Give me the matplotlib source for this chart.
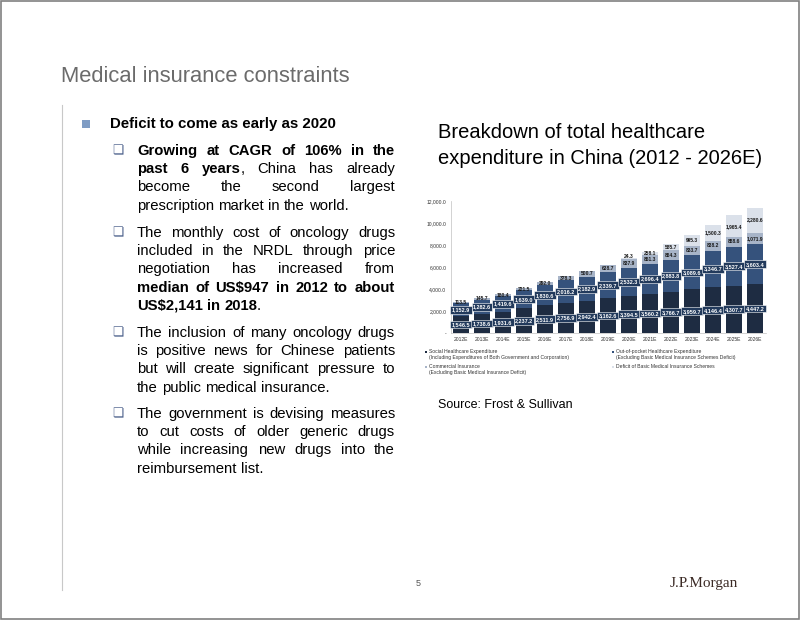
import matplotlib.pyplot as plt
from matplotlib.patches import Rectangle
from matplotlib.lines import Line2D

W, H = 802, 620

years = ['2012E', '2013E', '2014E', '2015E', '2016E', '2017E', '2018E', '2019E',
         '2020E', '2021E', '2022E', '2023E', '2024E', '2025E', '2026E']
social = [1546.5, 1738.6, 1931.6, 2237.2, 2511.9, 2756.9, 2942.4, 3162.6,
          3394.5, 3560.2, 3766.7, 3959.7, 4146.4, 4307.7, 4447.2]
out_of_pocket = [1152.9, 1282.6, 1419.6, 1639.0, 1830.6, 2016.2, 2182.9, 2339.7,
                 2532.3, 2696.4, 2883.8, 3089.6, 3346.7, 3527.4, 3603.4]
commercial = [113.5, 145.7, 180.4, 221.5, 292.0, 378.3, 500.7, 638.7,
              837.9, 861.3, 864.3, 833.7, 838.2, 888.6, 1071.9]
deficit = [0, 0, 0, 0, 0, 0, 0, 0,
           24.3, 258.1, 585.7, 995.3, 1500.3, 1965.4, 2280.6]
yticks = [0, 2000, 4000, 6000, 8000, 10000, 12000]

plt.rcParams['font.family'] = ['Liberation Sans', 'DejaVu Sans']

fig = plt.figure(figsize=(W / 100, H / 100), dpi=100)


def fx(x):
    return x / W


def fy(y):
    return 1 - y / H


# slide frame and left rule
fig.add_artist(Rectangle((fx(1), fy(619)), fx(799) - fx(1), fy(1) - fy(619),
                         transform=fig.transFigure, fill=False, ec='#808080', lw=1.2))
fig.add_artist(Line2D([fx(62), fx(62)], [fy(105), fy(590)], transform=fig.transFigure,
                      color='#c8c8c8', lw=0.8))

fig.text(fx(61), fy(77), 'Medical insurance constraints', fontsize=15.8, color='#6b6b6b',
         va='center', ha='left')

# main bullet
fig.add_artist(Rectangle((fx(82), fy(128)), 8 / W, 8 / H, transform=fig.transFigure,
                         fc='#7f9cc4', ec='none'))
fig.text(fx(110), fy(124), 'Deficit to come as early as 2020', fontsize=10.8,
         fontweight='bold', va='center', ha='left')

# sub bullets, justified text
paras = [
    [[('Growing at CAGR of 106% in the', True)],
     [('past 6 years', True), (', China has already', False)],
     [('become the second largest', False)],
     [('prescription market in the world.', False)]],
    [[('The monthly cost of oncology drugs', False)],
     [('included in the NRDL through price', False)],
     [('negotiation has increased from', False)],
     [('median of US$947 in 2012 to about', True)],
     [('US$2,141 in 2018', True), ('.', False)]],
    [[('The inclusion of many oncology drugs', False)],
     [('is positive news for Chinese patients', False)],
     [('but will create significant pressure to', False)],
     [('the public medical insurance.', False)]],
    [[('The government is devising measures', False)],
     [('to cut costs of older generic drugs', False)],
     [('while increasing new drugs into the', False)],
     [('reimbursement list.', False)]],
]
para_y = [151, 233, 333, 414]
line_h = 18.2
x_left, x_right = 137, 395
fs = 10.7

renderer = fig.canvas.get_renderer()


def width_of(s, bold):
    t = fig.text(0, 0, s, fontsize=fs, fontweight='bold' if bold else 'normal')
    w = t.get_window_extent(renderer).width
    t.remove()
    return w


space_w = width_of('a a', False) - width_of('aa', False)

for para, y0 in zip(paras, para_y):
    fig.text(fx(112), fy(y0), '\u274f', fontsize=9, color='#4a5f8a', va='center',
             ha='left', family=['DejaVu Sans'])
    for i, segs in enumerate(para):
        y = y0 + i * line_h
        # words; punctuation at the start of a segment sticks to the previous word
        tokens = []
        for k, (text, bold) in enumerate(segs):
            for j, p in enumerate(text.split(' ')):
                if p == '':
                    continue
                if k > 0 and j == 0 and p[0] in ',.' and tokens:
                    tokens[-1].append((p, bold))
                else:
                    tokens.append([(p, bold)])
        widths = [sum(width_of(p, b) for p, b in tok) for tok in tokens]
        last = i == len(para) - 1
        if last or len(tokens) == 1:
            gap = space_w
        else:
            gap = (x_right - x_left - sum(widths)) / (len(tokens) - 1)
        x = x_left
        for tok, w in zip(tokens, widths):
            xx = x
            for p, b in tok:
                fig.text(fx(xx), fy(y), p, fontsize=fs, fontweight='bold' if b else 'normal',
                         va='center', ha='left')
                xx += width_of(p, b)
            x += w + gap

# chart title
fig.text(fx(438), fy(132), 'Breakdown of total healthcare', fontsize=14.5,
         va='center', ha='left')
fig.text(fx(438), fy(158), 'expenditure in China (2012 - 2026E)', fontsize=14.5,
         va='center', ha='left')

# chart
ax = fig.add_axes([fx(450.5), fy(333), 315 / W, 132 / H])
xs = list(range(len(years)))
c_social = '#1e2c42'
c_oop = '#35527c'
c_comm = '#a7b4c8'
c_def = '#dbe1ea'
bw = 0.72
b1 = social
b2 = [a + b for a, b in zip(social, out_of_pocket)]
b3 = [a + b for a, b in zip(b2, commercial)]
ax.bar(xs, social, bw, color=c_social)
ax.bar(xs, out_of_pocket, bw, bottom=b1, color=c_oop)
ax.bar(xs, commercial, bw, bottom=b2, color=c_comm)
ax.bar(xs, deficit, bw, bottom=b3, color=c_def)

box = dict(boxstyle='square,pad=0.25', fc='#223a5c', ec='white', lw=0.4)
for i in xs:
    ax.text(i, social[i] / 2, f'{social[i]:,.1f}', fontsize=4, color='white',
            fontweight='bold', ha='center', va='center', bbox=box)
    ax.text(i, b1[i] + out_of_pocket[i] / 2, f'{out_of_pocket[i]:,.1f}', fontsize=4,
            color='white', fontweight='bold', ha='center', va='center', bbox=box)
    ax.text(i, b2[i] + commercial[i] / 2, f'{commercial[i]:,.1f}', fontsize=3.6,
            color='#1a1a1a', fontweight='bold', ha='center', va='center')
    if deficit[i] > 0:
        ax.text(i, b3[i] + max(deficit[i], 300) / 2, f'{deficit[i]:,.1f}', fontsize=3.6,
                color='#1a1a1a', fontweight='bold', ha='center', va='center')

ax.set_xlim(-0.5, len(years) - 0.5)
ax.set_ylim(0, 12000)
ax.set_yticks(yticks)
ax.set_yticklabels(['-'] + [f'{v:,.1f}' for v in yticks[1:]])
ax.set_xticks(xs)
ax.set_xticklabels(years)
ax.tick_params(labelsize=3.6, length=0, pad=3, colors='#333333')
for s in ['top', 'right']:
    ax.spines[s].set_visible(False)
ax.spines['left'].set_color('#c0c0c0')
ax.spines['bottom'].set_color('#c0c0c0')
ax.spines['left'].set_linewidth(0.5)
ax.spines['bottom'].set_linewidth(0.5)

# legend
leg = [
    (425, 352, c_social, 'Social Healthcare Expenditure',
     '(Including Expenditures of Both Government and Corporation)'),
    (612, 352, c_oop, 'Out-of-pocket Healthcare Expenditure',
     '(Excluding Basic Medical Insurance Schemes Deficit)'),
    (425, 367, c_comm, 'Commercial Insurance',
     '(Excluding Basic Medical Insurance Deficit)'),
    (612, 367, c_def, 'Deficit of Basic Medical Insurance Schemes', None),
]
for x, y, c, t1, t2 in leg:
    fig.add_artist(Rectangle((fx(x), fy(y + 1.2)), 2.4 / W, 2.4 / H,
                             transform=fig.transFigure, fc=c, ec='none'))
    fig.text(fx(x + 4), fy(y), t1, fontsize=3.6, va='center', ha='left', color='#333333')
    if t2:
        fig.text(fx(x + 4), fy(y + 5.5), t2, fontsize=3.6, va='center', ha='left',
                 color='#333333')

fig.text(fx(438), fy(405), 'Source: Frost & Sullivan', fontsize=9, va='center', ha='left')

fig.text(fx(418), fy(584), '5', fontsize=6.5, color='#555555', va='center', ha='center')
fig.text(fx(670), fy(583), 'J.P.Morgan', fontsize=11, color='#3b2a25', va='center',
         ha='left', family=['Liberation Serif'])

fig.savefig('out.png', dpi=100)
